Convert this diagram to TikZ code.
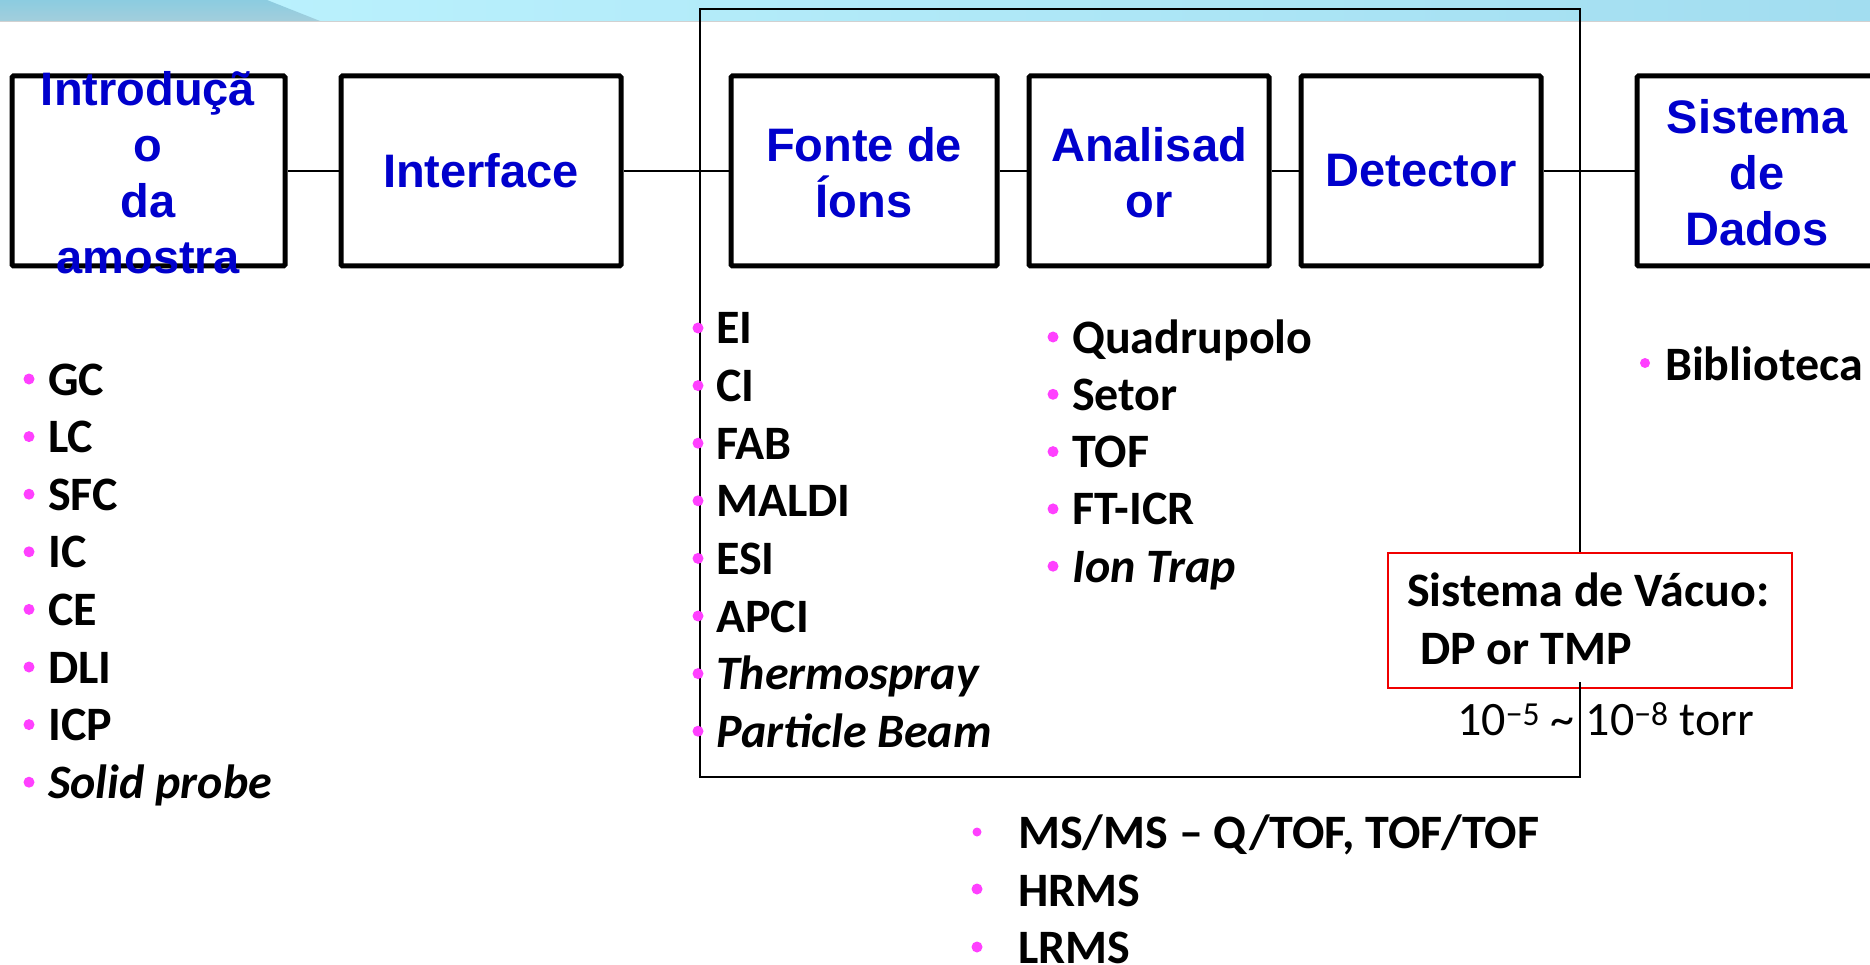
\documentclass[tikz,border=0pt]{standalone}
\usepackage{fontspec}
\setmainfont{Carlito}
\newfontfamily\boxfont{Liberation Sans}
\definecolor{boxblue}{RGB}{0,0,204}
\definecolor{bulletpink}{RGB}{255,64,255}
\definecolor{bandDarkTop}{RGB}{140,204,224}
\definecolor{bandDarkLow}{RGB}{162,206,220}
\definecolor{bandLightL}{RGB}{186,241,253}
\definecolor{bandLightR}{RGB}{162,221,240}
\definecolor{vacred}{RGB}{240,0,0}
\tikzset{
  stagebox/.style={draw=black, fill=white, line width=5pt, rounded corners=1.5pt,
    minimum width=#1, minimum height=190pt, inner sep=0pt},
  boxlabel/.style={font=\boxfont\bfseries\fontsize{47}{56}\selectfont, text=boxblue,
    align=center, inner sep=0pt},
  item/.style={anchor=base west, inner sep=0pt, font=\bfseries\fontsize{48}{57}\selectfont},
  dot/.style={circle, fill=bulletpink, draw=none, inner sep=0pt, minimum size=#1},
  dot/.default=11pt,
  link/.style={line width=2pt},
  enclosure/.style={line width=2.2pt},
  vacbox/.style={draw=vacred, line width=2.5pt, fill=white, minimum width=404pt,
    minimum height=135pt, inner sep=0pt}
}
\begin{document}
\begin{tikzpicture}[x=1pt, y=-1pt]
\useasboundingbox (0,0) rectangle (1870,965);
\clip (0,0) rectangle (1870,965);

% header band
\shade[left color=bandLightL, right color=bandLightR] (250,0) rectangle (1870,21);
\shade[top color=bandDarkTop, bottom color=bandDarkLow]
  (0,0) -- (267,0) -- (320,21) -- (0,21) -- cycle;
\draw[line width=1pt, color=black!18] (0,21.5) -- (1870,21.5);

% vacuum enclosure around source, analyser and detector
\draw[enclosure] (700,9) rectangle (1580,777);

% stages
\node[stagebox=273pt] (b1) at (148.5,171) {};
\node[stagebox=280pt] (b2) at (481,171) {};
\node[stagebox=266pt] (b3) at (864,171) {};
\node[stagebox=240pt] (b4) at (1149,171) {};
\node[stagebox=240pt] (b5) at (1421,171) {};
\node[stagebox=240pt] (b6) at (1757,171) {};

\draw[link] (b1.east) -- (b2.west);
\draw[link] (b2.east) -- (b3.west);
\draw[link] (b3.east) -- (b4.west);
\draw[link] (b4.east) -- (b5.west);
\draw[link] (b5.east) -- (b6.west);

\node[boxlabel] (b1t) at (148,173) {Introduçã\\o\\da\\amostra};
\node[boxlabel] (b2t) at (481,171) {Interface};
\node[boxlabel] (b3t) at (864,173) {Fonte de\\Íons};
\node[boxlabel] (b4t) at (1149,173) {Analisad\\or};
\node[boxlabel] (b5t) at (1421,171) {Detector};
\node[boxlabel] (b6t) at (1757,173) {Sistema\\de\\Dados};

% sample introduction
\foreach \t [count=\i] in {GC,LC,SFC,IC,CE,DLI,ICP,{\itshape Solid probe}} {
  \node[dot] (intro-d\i) at (29,{395+57.6*(\i-1)-16}) {};
  \node[item] (intro-\i) at (48,{395+57.6*(\i-1)}) {\t};
}

% ion sources
\foreach \t [count=\i] in {EI,CI,FAB,MALDI,ESI,APCI,{\itshape Thermospray},{\itshape Particle Beam}} {
  \node[dot] (src-d\i) at (698,{344+57.6*(\i-1)-16}) {};
  \node[item] (src-\i) at (716,{344+57.6*(\i-1)}) {\t};
}

% analysers
\foreach \t [count=\i] in {Quadrupolo,Setor,TOF,FT-ICR,{\itshape Ion Trap}} {
  \node[dot] (an-d\i) at (1053,{353+57.3*(\i-1)-16}) {};
  \node[item] (an-\i) at (1072,{353+57.3*(\i-1)}) {\t};
}

% data system
\node[dot=10pt] (lib-d) at (1645,363) {};
\node[item] (lib) at (1665,380) {Biblioteca};

% vacuum system
\node[vacbox] (vac) at (1590,620.5) {};
\draw[enclosure] (1580,682) -- (1580,777);
\node[item] (vac1) at (1407,606) {Sistema de Vácuo:};
\node[item] (vac2) at (1420,664) {DP or TMP};
\node[anchor=base west, inner sep=0pt, font=\fontsize{48}{58}\selectfont] (torr)
  at (1457,735) {10\textsuperscript{\char"2212 5} \textasciitilde{} 10\textsuperscript{\char"2212 8} torr};

% instrument types
\node[dot=9pt] (ms-d1) at (977,832) {};
\node[item] (ms-1) at (1018,848) {MS/MS – Q/TOF, TOF/TOF};
\node[dot] (ms-d2) at (977,889) {};
\node[item] (ms-2) at (1018,906) {HRMS};
\node[dot] (ms-d3) at (977,947) {};
\node[item] (ms-3) at (1018,963) {LRMS};
\end{tikzpicture}
\end{document}
